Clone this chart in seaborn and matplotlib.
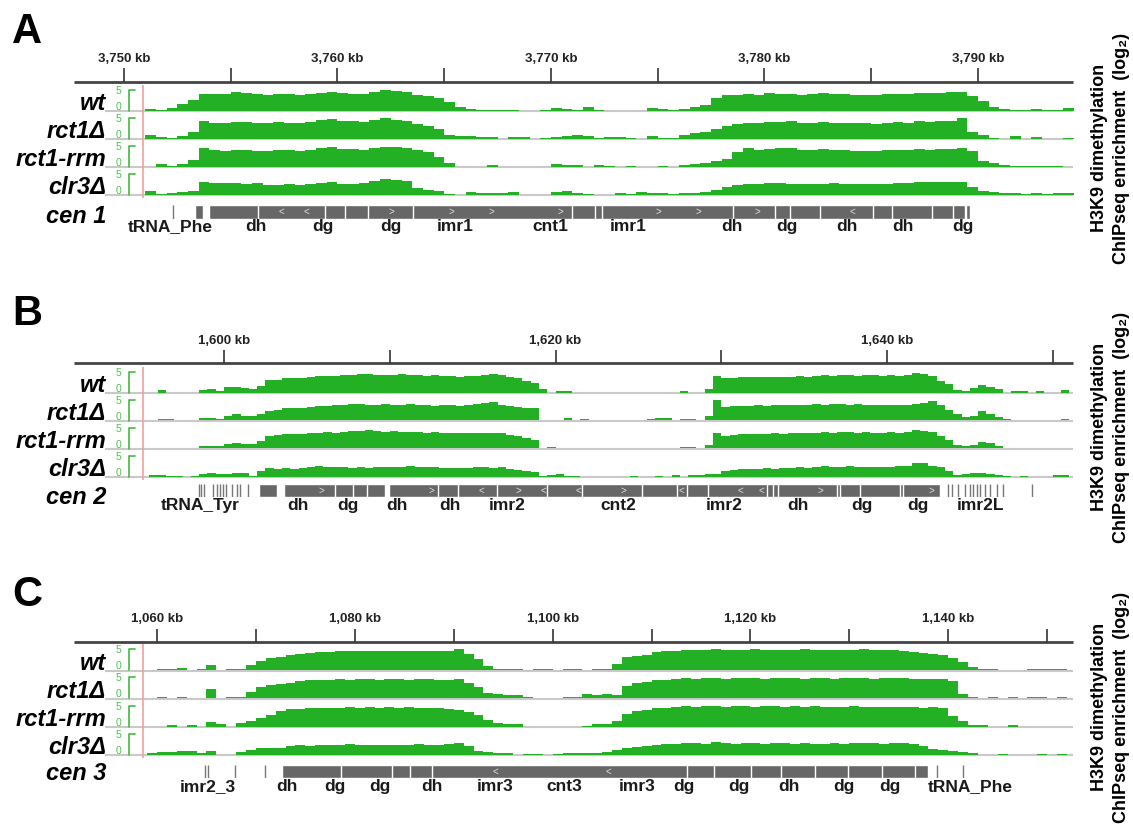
import numpy as np
import pandas as pd
import matplotlib
matplotlib.use('Agg')
import matplotlib.pyplot as plt
import seaborn as sns

STRAINS = ['wt', 'rct1Δ', 'rct1-rrm', 'clr3Δ']

# ---- panel A: cen1, H3K9me2 ChIP signal (log2), 0.5 kb bins from 3,751 kb
A_START, A_BIN = 3751.0, 0.5
A_WT = [0.4, 0.2, 0.5, 1.5, 2.4, 3.9, 3.8, 3.9, 4.2, 4.1,
        3.8, 3.7, 3.9, 3.8, 3.7, 3.9, 4.1, 4.3, 4.1, 3.8,
        3.9, 4.4, 4.8, 4.6, 4.2, 3.6, 3.4, 2.9, 2.0, 0.8,
        0.4, 0.2, 0.2, 0.2, 0.1, 0, 0, 0.1, 0.5, 0.3,
        0.2, 0.8, 0.1, 0, 0, 0, 0, 0.5, 0.3, 0.2,
        0.3, 0.8, 1.3, 2.8, 3.6, 3.5, 3.8, 3.7, 4.0, 3.9,
        3.8, 3.6, 3.9, 4.0, 3.9, 3.8, 3.7, 3.7, 3.6, 3.8,
        3.9, 3.9, 4.1, 4.1, 4.1, 4.3, 4.3, 3.3, 2.2, 0.8,
        0.3, 0.2, 0.2, 0.3, 0.1, 0.1, 0.6]
A_RCT1 = [0.9, 0.4, 0.2, 0.6, 1.5, 4.1, 3.7, 3.6, 3.9, 3.8,
          3.5, 3.6, 3.8, 3.7, 3.6, 3.8, 4.2, 4.5, 4.0, 4.1,
          3.8, 4.3, 4.8, 4.3, 4.0, 3.3, 2.8, 2.3, 0.9, 0.6,
          0.5, 0.3, 0.3, 0, 0.3, 0.4, 0, 0.1, 0.3, 0.5,
          0.8, 0.5, 0.2, 0.3, 0.4, 0.1, 0, 0.5, 0.2, 0.2,
          0.8, 1.2, 1.6, 2.3, 3.0, 3.3, 3.5, 3.7, 3.8, 3.9,
          4.0, 3.5, 3.7, 3.8, 3.7, 3.6, 3.6, 3.5, 3.4, 3.6,
          3.9, 3.6, 4.0, 3.9, 4.1, 4.0, 4.8, 1.5, 0.7, 0.2,
          0, 0.5, 0, 0.3, 0, 0, 0.2]
A_RRM = [0, 0.5, 0.2, 0.6, 1.5, 4.4, 3.8, 3.7, 3.9, 3.9,
         3.6, 3.7, 3.9, 3.8, 3.7, 3.9, 4.2, 4.5, 4.1, 4.0,
         3.9, 4.3, 4.6, 4.6, 4.4, 3.8, 3.3, 2.2, 0.9, 0,
         0, 0, 0.4, 0, 0, 0, 0, 0, 0.5, 0.3,
         0.3, 0, 0.3, 0.2, 0, 0.2, 0, 0, 0.2, 0,
         0.3, 0.6, 0.9, 1.2, 1.8, 3.4, 4.2, 3.9, 4.0, 4.3,
         4.4, 3.8, 3.9, 4.1, 3.9, 3.8, 3.7, 3.7, 3.6, 3.8,
         3.8, 3.9, 4.0, 3.8, 4.1, 4.0, 4.4, 3.5, 1.3, 0.9,
         0.4, 0.2, 0.2, 0.2, 0.2, 0.1, 0]
A_CLR3 = [0.7, 0.2, 0.3, 0.6, 0.9, 2.8, 2.7, 2.6, 2.7, 2.4,
          2.6, 2.3, 2.2, 2.4, 2.3, 2.4, 2.6, 2.9, 2.5, 2.4,
          2.6, 3.2, 3.5, 3.4, 3.1, 1.4, 1.1, 0.7, 0.1, 0,
          0.5, 0.4, 0.4, 0.4, 0.5, 0, 0, 0, 0.5, 0.9,
          0.4, 0.2, 0, 0, 0.3, 0.2, 0.5, 0.3, 0.3, 0.2,
          0.4, 0.4, 0.6, 1.0, 1.8, 2.2, 2.5, 2.4, 2.6, 2.7,
          2.5, 2.4, 2.5, 2.4, 2.6, 2.5, 2.4, 2.5, 2.4, 2.5,
          2.6, 2.7, 2.8, 2.9, 2.9, 3.0, 2.8, 1.7, 0.9, 0.5,
          0.4, 0.3, 0.2, 0.4, 0.2, 0.3, 0.4]

# ---- panel B: cen2, 0.5 kb bins from 1,595.5 kb
B_START, B_BIN = 1595.5, 0.5
B_WT = [0, 0.5, 0, 0, 0, 0, 0.6, 0.7, 0.3, 1.2,
        1.3, 1.1, 0.9, 1.6, 2.8, 3.0, 3.3, 3.4, 3.3, 3.6,
        3.8, 3.9, 3.8, 4.0, 4.1, 4.2, 4.3, 4.1, 4.0, 4.1,
        4.2, 4.0, 4.1, 3.9, 4.0, 3.8, 3.9, 3.7, 3.8, 3.9,
        4.0, 4.2, 4.0, 3.5, 3.3, 2.6, 2.2, 0.8, 0, 0.4,
        0.3, 0, 0, 0, 0, 0, 0, 0, 0, 0,
        0, 0, 0, 0, 0.3, 0, 0, 0.8, 3.8, 3.3,
        3.4, 3.5, 3.6, 3.6, 3.7, 3.6, 3.7, 3.7, 3.8, 3.7,
        3.9, 4.0, 3.9, 4.0, 4.1, 3.9, 4.0, 4.1, 3.9, 4.0,
        3.9, 4.1, 4.5, 4.4, 3.8, 2.6, 2.0, 0.5, 0.4, 1.0,
        1.7, 1.3, 0.8, 0, 0.3, 0.3, 0, 0.3, 0, 0, 0.5]
B_RCT1 = [0, 0.3, 0.3, 0, 0.2, 0, 0.5, 0.6, 0.3, 1.0,
          1.6, 1.1, 1.0, 1.5, 2.2, 2.5, 2.8, 2.9, 2.8, 3.2,
          3.4, 3.3, 3.5, 3.7, 3.9, 3.8, 3.7, 3.6, 3.8, 3.7,
          3.6, 3.8, 3.5, 3.6, 3.4, 3.6, 3.5, 3.4, 3.6, 3.8,
          4.1, 4.3, 3.7, 3.3, 3.2, 3.0, 2.8, 0.2, 0, 0,
          0.5, 0, 0.3, 0, 0, 0, 0.2, 0.2, 0, 0.2,
          0.4, 0.5, 0.6, 0.2, 0.3, 0.3, 0, 1.0, 4.8, 3.2,
          3.3, 3.4, 3.4, 3.5, 3.4, 3.5, 3.6, 3.5, 3.6, 3.7,
          3.8, 3.7, 3.8, 3.9, 3.7, 3.8, 3.6, 3.7, 3.5, 3.6,
          3.5, 3.7, 3.8, 4.1, 4.5, 3.6, 2.4, 1.4, 0.9, 1.0,
          2.2, 1.6, 0.8, 0.3, 0, 0, 0, 0, 0, 0, 0.3]
B_RRM = [0, 0, 0, 0, 0, 0, 0.5, 0.6, 0.5, 1.1,
         1.3, 1.1, 1.0, 1.8, 2.9, 3.1, 3.3, 3.4, 3.4, 3.6,
         3.7, 3.8, 3.7, 3.9, 4.0, 4.1, 4.2, 4.0, 3.9, 4.0,
         3.9, 3.8, 3.9, 3.7, 3.8, 3.6, 3.7, 3.5, 3.6, 3.5,
         3.6, 3.7, 3.5, 3.2, 3.0, 2.5, 2.0, 0.1, 0.3, 0,
         0, 0, 0, 0, 0, 0, 0, 0, 0, 0,
         0, 0, 0, 0, 0.3, 0.3, 0, 0.8, 3.6, 3.0,
         3.1, 3.3, 3.4, 3.3, 3.4, 3.5, 3.4, 3.5, 3.6, 3.5,
         3.7, 3.8, 3.7, 3.8, 3.9, 3.7, 3.8, 3.7, 3.6, 3.8,
         3.7, 3.9, 4.2, 4.1, 3.8, 2.8, 1.9, 0.8, 0.5, 0.8,
         1.5, 1.3, 0.6, 0, 0, 0, 0, 0, 0, 0, 0]
B_CLR3 = [0.3, 0.4, 0.1, 0.2, 0, 0.2, 0.6, 0.8, 0.5, 0.6,
          0.8, 0.7, 0.2, 1.2, 1.9, 1.8, 1.9, 1.8, 2.0, 2.3,
          2.5, 2.3, 2.2, 2.1, 2.0, 2.2, 2.0, 2.1, 2.3, 2.2,
          2.1, 2.4, 2.3, 2.1, 2.2, 2.0, 1.9, 2.0, 1.9, 2.1,
          2.2, 2.0, 2.1, 1.7, 1.5, 1.2, 1.0, 0.2, 0.4, 0.6,
          0.2, 0.2, 0, 0, 0, 0, 0, 0, 0.2, 0,
          0, 0.2, 0, 0.3, 0, 0.3, 0.3, 0.5, 0.5, 1.3,
          1.6, 1.7, 1.8, 1.7, 1.9, 1.8, 2.0, 1.9, 2.1, 2.0,
          2.3, 2.4, 2.2, 2.3, 2.4, 2.2, 2.3, 2.2, 2.3, 2.2,
          2.4, 2.5, 3.1, 3.2, 2.5, 2.1, 1.2, 0.4, 0.5, 0.7,
          0.9, 0.6, 0.4, 0.2, 0, 0.2, 0, 0, 0, 0.3, 0.4]

# ---- panel C: cen3, 1 kb bins from 1,059 kb
C_START, C_BIN = 1059.0, 1.0
C_WT = [0, 0.3, 0.3, 0.4, 0, 0.3, 1.2, 0, 0.2, 0.3,
        1.2, 2.2, 2.7, 3.1, 3.5, 3.8, 4.0, 4.2, 4.3, 4.4,
        4.4, 4.5, 4.4, 4.5, 4.5, 4.4, 4.5, 4.4, 4.5, 4.4,
        4.5, 4.8, 3.8, 2.5, 1.0, 0.3, 0.3, 0.3, 0, 0.2,
        0.2, 0, 0.3, 0.3, 0, 0.2, 0.2, 1.5, 3.0, 3.3,
        3.6, 4.2, 4.4, 4.5, 4.6, 4.7, 4.6, 4.8, 4.7, 4.6,
        4.7, 4.8, 4.6, 4.7, 4.7, 4.6, 4.8, 4.7, 4.6, 4.7,
        4.6, 4.7, 4.8, 4.7, 4.6, 4.7, 4.5, 4.3, 4.0, 3.8,
        3.5, 2.8, 1.8, 0.6, 0.3, 0.3, 0.1, 0, 0, 0.3,
        0.2, 0.3, 0.3]
C_RCT1 = [0, 0.2, 0, 0.2, 0, 0, 2.0, 0, 0.3, 0.2,
          1.4, 2.5, 3.0, 3.3, 3.6, 3.9, 4.1, 4.3, 4.2, 4.4,
          4.3, 4.5, 4.4, 4.3, 4.5, 4.4, 4.3, 4.5, 4.4, 4.3,
          4.2, 4.4, 3.6, 2.6, 1.2, 0.9, 0.8, 0.7, 0.2, 0,
          0, 0, 0.3, 0.2, 0.9, 0.8, 1.0, 0.6, 2.8, 3.4,
          3.7, 4.2, 4.3, 4.5, 4.6, 4.5, 4.7, 4.6, 4.5, 4.7,
          4.6, 4.7, 4.5, 4.6, 4.7, 4.6, 4.5, 4.7, 4.6, 4.5,
          4.6, 4.7, 4.6, 4.5, 4.6, 4.7, 4.6, 4.5, 4.4, 4.5,
          4.4, 4.0, 1.0, 0.2, 0, 0.3, 0, 0.2, 0, 0.3,
          0.2, 0, 0.3]
C_RRM = [0, 0, 0.3, 0, 0.3, 0, 1.0, 0.5, 0, 0.8,
         1.2, 2.0, 2.6, 3.7, 4.0, 4.1, 4.2, 4.3, 4.4, 4.3,
         4.5, 4.4, 4.5, 4.4, 4.5, 4.4, 4.5, 4.4, 4.3, 4.2,
         4.0, 3.8, 3.4, 2.6, 1.5, 0.8, 0.6, 0.6, 0, 0,
         0, 0, 0, 0, 0.2, 0.5, 0.6, 1.2, 3.0, 3.7,
         3.9, 4.3, 4.4, 4.6, 4.7, 4.6, 4.8, 4.7, 4.6, 4.8,
         4.7, 4.6, 4.7, 4.8, 4.6, 4.7, 4.6, 4.7, 4.6, 4.5,
         4.6, 4.7, 4.6, 4.5, 4.6, 4.5, 4.6, 4.5, 4.4, 4.5,
         4.2, 2.4, 1.2, 0.4, 0.3, 0, 0, 0.3, 0, 0,
         0, 0, 0]
C_CLR3 = [0.3, 0.5, 0.6, 0.8, 0.7, 0.4, 0.8, 0, 0, 0.5,
          1.0, 1.4, 1.6, 1.5, 1.9, 2.1, 2.0, 2.2, 2.3, 2.1,
          2.4, 2.2, 2.3, 2.1, 2.2, 2.3, 2.1, 2.4, 2.2, 2.3,
          2.5, 2.6, 1.9, 0.8, 0.5, 0.4, 0.3, 0, 0.2, 0.2,
          0, 0.2, 0.3, 0.3, 0.3, 0.4, 0.5, 1.0, 1.5, 1.8,
          2.0, 2.2, 2.5, 2.4, 2.6, 2.7, 2.5, 2.8, 2.6, 2.5,
          2.7, 2.6, 2.5, 2.7, 2.6, 2.5, 2.6, 2.5, 2.4, 2.6,
          2.5, 2.6, 2.7, 2.6, 2.5, 2.6, 2.7, 2.5, 2.0, 1.2,
          1.0, 0.8, 0.5, 0.4, 0, 0, 0.2, 0, 0, 0,
          0.2, 0, 0.2]

# ---- annotation tracks (kb)
A_BARS = [(3753.33, 3753.70), (3753.98, 3789.39), (3789.44, 3789.63)]
A_TICKLINES = [3752.30]
A_SEPS = [3756.29, 3759.41, 3760.35, 3761.44, 3763.52, 3770.97, 3772.06, 3772.37,
          3778.54, 3780.49, 3781.19, 3782.60, 3785.10, 3785.96, 3787.83, 3788.84]
A_FWD = [3762.54, 3765.35, 3767.22, 3770.42, 3775.01, 3776.89, 3779.65]
A_REV = [3757.39, 3758.56, 3784.10]
A_LABELS = ['tRNA_Phe', 'dh', 'dg', 'dg', 'imr1', 'cnt1', 'imr1', 'dh', 'dg', 'dh', 'dh', 'dg']
A_LABEL_KB = [3752.15, 3756.18, 3759.32, 3762.51, 3765.50, 3769.95, 3773.61,
              3778.48, 3781.05, 3783.86, 3786.49, 3789.30]

B_BARS = [(1602.11, 1603.18), (1603.62, 1609.71), (1609.97, 1643.20)]
B_TICKLINES = [1598.51, 1598.61, 1598.81, 1599.32, 1599.60, 1599.76, 1599.96, 1600.12,
               1600.46, 1600.77, 1600.97, 1601.47, 1643.70, 1643.90, 1644.30, 1644.71,
               1645.01, 1645.21, 1645.41, 1645.61, 1645.91, 1646.21, 1646.62, 1647.02, 1648.73]
B_SEPS = [1606.70, 1607.80, 1608.61, 1612.93, 1614.14, 1616.45, 1619.47, 1621.58, 1625.20,
          1627.31, 1627.92, 1629.22, 1632.74, 1633.14, 1633.44, 1636.97, 1637.17, 1638.37,
          1640.78, 1640.98]
B_FWD = [1605.89, 1612.53, 1617.76, 1624.09, 1635.96, 1642.70]
B_REV = [1615.55, 1619.26, 1621.38, 1627.61, 1631.13, 1632.44]
B_LABELS = ['tRNA_Tyr', 'dh', 'dg', 'dh', 'dh', 'imr2', 'cnt2', 'imr2', 'dh', 'dg', 'dg', 'imr2L']
B_LABEL_KB = [1598.55, 1604.46, 1607.48, 1610.44, 1613.63, 1617.07, 1623.77, 1630.17,
              1634.64, 1638.49, 1641.87, 1645.61]

C_BARS = [(1072.60, 1138.00)]
C_TICKLINES = [1064.85, 1065.19, 1067.89, 1070.92, 1138.87, 1141.50]
C_SEPS = [1078.56, 1083.79, 1085.63, 1087.79, 1113.60, 1116.36, 1120.06, 1123.12,
          1126.51, 1129.89, 1133.27, 1136.64]
C_FWD = []
C_REV = [1094.24, 1105.60]
C_LABELS = ['imr2_3', 'dh', 'dg', 'dg', 'dh', 'imr3', 'cnt3', 'imr3', 'dg', 'dg', 'dh', 'dg', 'dg', 'tRNA_Phe']
C_LABEL_KB = [1065.16, 1073.14, 1078.00, 1082.55, 1087.81, 1094.18, 1101.15, 1108.53,
              1113.29, 1118.85, 1123.90, 1129.48, 1134.14, 1142.20]

GREEN = '#24b024'
GENE_GRAY = '#676767'
W, H = 1133, 825
X_LEFT, X_RIGHT = 74, 1073
PX_PER_UNIT = 4.3

panels = [
    dict(letter='A', cen='cen 1', view=(3747.66, 3794.45), ticks=np.arange(3750, 3791, 5), label_step=10,
         start=A_START, width=A_BIN, tracks=[A_WT, A_RCT1, A_RRM, A_CLR3],
         bars=A_BARS, lines=A_TICKLINES, seps=A_SEPS, fwd=A_FWD, rev=A_REV,
         labels=A_LABELS, label_kb=A_LABEL_KB,
         letter_y=43, ticklab_y=62, tick_top=68, ruler_y=81.5,
         baselines=[110.5, 138.5, 166.5, 194.5], gene=(205, 218.5), gene_lab_y=231, cen_y=223,
         right_y=148),
    dict(letter='B', cen='cen 2', view=(1590.95, 1651.22), ticks=np.arange(1600, 1651, 10), label_step=20,
         start=B_START, width=B_BIN, tracks=[B_WT, B_RCT1, B_RRM, B_CLR3],
         bars=B_BARS, lines=B_TICKLINES, seps=B_SEPS, fwd=B_FWD, rev=B_REV,
         labels=B_LABELS, label_kb=B_LABEL_KB,
         letter_y=325, ticklab_y=344, tick_top=350, ruler_y=362.5,
         baselines=[392.5, 420.5, 448.5, 476.5], gene=(484, 497), gene_lab_y=510, cen_y=504,
         right_y=427),
    dict(letter='C', cen='cen 3', view=(1051.61, 1152.61), ticks=np.arange(1060, 1151, 10), label_step=20,
         start=C_START, width=C_BIN, tracks=[C_WT, C_RCT1, C_RRM, C_CLR3],
         bars=C_BARS, lines=C_TICKLINES, seps=C_SEPS, fwd=C_FWD, rev=C_REV,
         labels=C_LABELS, label_kb=C_LABEL_KB,
         letter_y=606, ticklab_y=622, tick_top=628.5, ruler_y=642,
         baselines=[670, 698, 726.5, 754.5], gene=(765, 778), gene_lab_y=791, cen_y=780,
         right_y=707),
]

sns.set_style('white')
plt.rcParams['font.family'] = ['Liberation Sans', 'DejaVu Sans']
plt.rcParams['text.color'] = 'black'

fig = plt.figure(figsize=(W / 100, H / 100), dpi=100)
page = fig.add_axes([0, 0, 1, 1])
page.set_xlim(0, W)
page.set_ylim(H, 0)
page.axis('off')


def px_axes(x0, y0, x1, y1):
    return fig.add_axes([x0 / W, 1 - y1 / H, (x1 - x0) / W, (y1 - y0) / H])


for p in panels:
    page.text(12, p['letter_y'], p['letter'], fontsize=30, fontweight='bold', va='baseline')

    # ruler
    rax = px_axes(X_LEFT, p['tick_top'], X_RIGHT, p['ruler_y'])
    rax.set_xlim(*p['view'])
    rax.set_ylim(0, 1)
    rax.axis('off')
    rax.vlines(p['ticks'], 0, 1, color='#333333', lw=1.2)
    page.hlines(p['ruler_y'], X_LEFT, X_RIGHT, color='#444444', lw=2)
    lab_y = (p['ruler_y'] - p['ticklab_y']) / (p['ruler_y'] - p['tick_top'])
    for t in p['ticks']:
        if (t - p['ticks'][0]) % p['label_step'] == 0:
            rax.text(t, lab_y, f'{int(t):,} kb', ha='center', va='baseline',
                     fontsize=9.5, fontweight='bold', color='#222222', clip_on=False)

    # signal tracks
    for name, vals, b in zip(STRAINS, p['tracks'], p['baselines']):
        lo = p['start']
        hi = p['start'] + p['width'] * len(vals)
        df = pd.DataFrame({'kb': lo + p['width'] * (np.arange(len(vals)) + 0.5),
                           'signal': vals})
        page.hlines(b + 0.5, 105, X_RIGHT, color='#c9c9c9', lw=1.5)
        ax = px_axes(X_LEFT, b - 27, X_RIGHT, b)
        sns.histplot(data=df, x='kb', weights='signal', binwidth=p['width'],
                     binrange=(lo, hi), element='step', fill=True, color=GREEN,
                     alpha=1, linewidth=0, ax=ax)
        ax.set_xlim(*p['view'])
        ax.set_ylim(0, 27 / PX_PER_UNIT)
        ax.axis('off')
        page.text(106, b, name, ha='right', va='baseline', fontsize=17,
                  fontweight='bold', fontstyle='italic')
        page.plot([135, 128.5, 128.5], [b - 21, b - 21, b], color='#3dbb3d', lw=1.2)
        page.text(118, b - 20, '5', ha='center', va='center', fontsize=7.5, color='#4cc04c')
        page.text(118, b - 4, '0', ha='center', va='center', fontsize=7.5, color='#4cc04c')
    page.vlines(143, p['baselines'][0] - 26, p['baselines'][-1] + 3, color='#f5a0a0', lw=1.2)

    # annotation track
    g0, g1 = p['gene']
    gax = px_axes(X_LEFT, g0, X_RIGHT, g1)
    gax.set_xlim(*p['view'])
    gax.set_ylim(0, 1)
    gax.axis('off')
    gax.broken_barh([(s, e - s) for s, e in p['bars']], (0, 1), facecolors=GENE_GRAY)
    gax.vlines(p['seps'], 0, 1, colors='white', lw=1)
    gax.vlines(p['lines'], 0, 1, colors='#777777', lw=1)
    for k in p['fwd']:
        gax.text(k, 0.5, '>', ha='center', va='center', fontsize=7, color='#e0e0e0')
    for k in p['rev']:
        gax.text(k, 0.5, '<', ha='center', va='center', fontsize=7, color='#e0e0e0')
    ly = (g1 - p['gene_lab_y']) / (g1 - g0)
    for k, s in zip(p['label_kb'], p['labels']):
        gax.text(k, ly, s, ha='center', va='baseline', fontsize=12.5,
                 fontweight='bold', color='#1a1a1a', clip_on=False)
    page.text(106, p['cen_y'], p['cen'], ha='right', va='baseline', fontsize=17,
              fontweight='bold', fontstyle='italic')

    # y-axis description
    page.text(1099, p['right_y'], 'H3K9 dimethylation', rotation=90, ha='center',
              va='center', fontsize=13, fontweight='bold')
    page.text(1121, p['right_y'], 'ChIPseq enrichment  (log₂)', rotation=90, ha='center',
              va='center', fontsize=13, fontweight='bold')

fig.savefig('out.png', dpi=100)
